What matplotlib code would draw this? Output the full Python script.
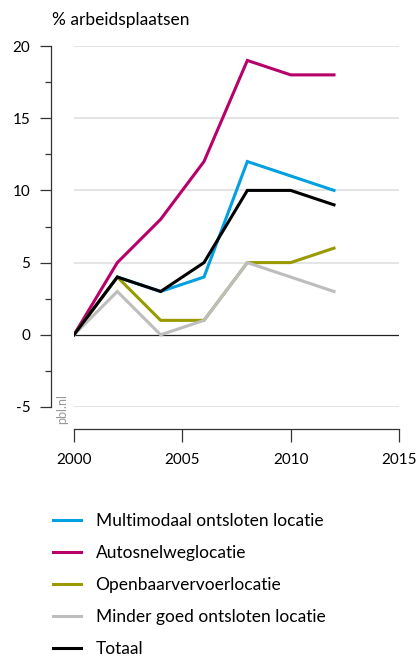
import matplotlib
matplotlib.use('Agg')
import matplotlib.pyplot as plt
import numpy as np

plt.rcParams['font.family'] = ['Lato', 'DejaVu Sans']
plt.rcParams['axes.unicode_minus'] = False

years = [2000, 2002, 2004, 2006, 2008, 2010, 2012]
multimodaal = [0, 4, 3, 4, 12, 11, 10]
autosnelweg = [0, 5, 8, 12, 19, 18, 18]
openbaar = [0, 4, 1, 1, 5, 5, 6]
minder_goed = [0, 3, 0, 1, 5, 4, 3]
totaal = [0, 4, 3, 5, 10, 10, 9]

labels = ['Multimodaal ontsloten locatie', 'Autosnelweglocatie',
          'Openbaarvervoerlocatie', 'Minder goed ontsloten locatie', 'Totaal']
colors = ['#00A0E1', '#B8006B', '#999A00', '#BDBDBD', '#000000']

xticks = [2000, 2005, 2010, 2015]
yticks = [-5, 0, 5, 10, 15, 20]

W, H = 418, 657
fig = plt.figure(figsize=(W / 100, H / 100), dpi=100)
ax = fig.add_axes([74 / W, 1 - 407 / H, 325 / W, 361 / H])

fz = 12.5
tfz = 11
ax.set_xlim(2000, 2015)
ax.set_ylim(-5, 20)

for g in [-5, 5, 10, 15, 20]:
    ax.axhline(g, color='#dddddd', linewidth=1.1, zorder=1)
ax.axhline(0, color='#222222', linewidth=0.9, zorder=2)

series = [multimodaal, autosnelweg, openbaar, minder_goed, totaal]
for idx, data in enumerate(series):
    ax.plot(years, data, color=colors[idx], linewidth=2.2, label=labels[idx],
            zorder=3 + idx, solid_joinstyle='miter')

for s in ['top', 'right']:
    ax.spines[s].set_visible(False)
ax.spines['left'].set_position(('outward', 16.5))
ax.spines['bottom'].set_position(('outward', 16))
ax.spines['left'].set_bounds(-5, 20)
ax.spines['bottom'].set_bounds(2000, 2015)
for s in ['left', 'bottom']:
    ax.spines[s].set_color('#333333')
    ax.spines[s].set_linewidth(0.9)

ax.set_xticks(xticks)
ax.set_yticks(yticks)
ax.set_yticks(np.arange(-2.5, 20, 5), minor=True)
ax.tick_params(axis='y', which='major', length=8, width=0.9, pad=7, labelsize=tfz, color='#333333')
ax.tick_params(axis='y', which='minor', length=4.5, width=0.9, color='#333333')
ax.tick_params(axis='x', which='major', length=9, width=0.9, pad=8, labelsize=tfz, color='#333333')

fig.text(52 / W, 1 - 20 / H, '% arbeidsplaatsen', fontsize=fz, va='center', ha='left')
fig.text(62 / W, 1 - 409 / H, 'pbl.nl', fontsize=9, color='#999999', rotation=90,
         va='center', ha='center')

fig.legend(loc='upper left', bbox_to_anchor=(53 / W, 1 - 513 / H), frameon=False,
           fontsize=fz, handlelength=1.6, handletextpad=0.85, labelspacing=0.92,
           borderpad=0, borderaxespad=0)

fig.savefig('out.png', dpi=100)
